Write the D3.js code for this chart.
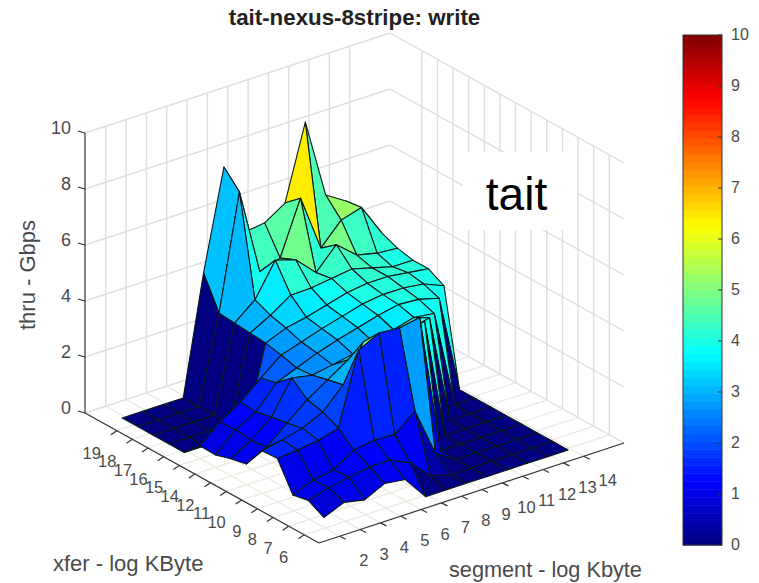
<!DOCTYPE html>
<html><head><meta charset="utf-8">
<script src="https://cdn.jsdelivr.net/npm/d3@7"></script>
<style>html,body{margin:0;padding:0;background:#fff}svg{display:block}text{font-family:"Liberation Sans",Arial,sans-serif}</style>
</head><body><svg id="c" width="759" height="583"></svg>
<script>
const title="tait-nexus-8stripe: write";
const xferLabels=[19,18,17,16,15,14,12,11,10,9,8,7,6];
const segLabels=[2,3,4,5,6,7,8,9,10,11,12,13,14];
const zTicks=[0,2,4,6,8,10];
const cbTicks=[0,1,2,3,4,5,6,7,8,9,10];
// rows: xfer from far (20) to near (6); columns: segment 2..14
const row0=[0,0,0,0,4.23,7.77,5.2,5.3,5.77,8.42,5.58,5.13,4.45];
const row1=[0,0,0,0,3.1,7.19,4.1,4.35,6.25,4.23,4.99,5.2,4.05];
const row2=[0,0,0,0,3.05,3.64,4.82,4.6,3.9,4.66,4.05,3.88,3.82];
const row3=[0,0,0,0,3.0,3.4,3.88,3.9,4.0,4.1,3.9,3.7,3.7];
const row4=[0,0,0,0,2.95,3.25,3.4,3.6,3.8,3.9,3.9,3.8,3.7];
const row5=[.55,1.16,1.63,2.25,2.83,3.06,3.3,3.5,3.7,3.8,3.8,3.7,3.4];
const row6=[.53,1.18,1.58,2.38,2.68,2.97,3.2,3.4,3.6,3.75,3.7,3.5,0];
const row7=[.7,1.13,1.71,2.87,2.73,2.86,3.0,3.2,3.4,3.6,3.5,0,0];
const row8=[.82,1.18,1.8,2.4,2.87,3.35,3.4,3.5,3.7,3.9,0,0,0];
const row9=[1.6,1.75,1.93,2.27,3.0,4.3,4.3,4.3,4.3,0,0,0,0];
const row10=[1.64,1.7,1.8,2.0,4.55,4.92,4.86,5.0,0,0,0,0,0];
const row11=[.64,.93,1.05,1.53,1.64,1.6,2.2,.46,0,0,0,0,0];
const row12=[.75,.96,1.1,1.23,1.24,.9,.2,0,0,0,0,0,0];
const row13=[.45,.75,.6,.95,.85,0,0,0,0,0,0,0,0];
const Z=[row0,row1,row2,row3,row4,row5,row6,row7,row8,row9,row10,row11,row12,row13];
const faceColorIn=[0,.5,1.2,2.4,3,3.7,10];
const faceColorOut=[0,.95,1.25,2.2,3,4,10];
const faceOverride={"11,6":2.8,"10,7":3.9,"9,8":3.9,"8,9":3.9,"7,10":3.9,"6,11":3.9};

const svg=d3.select("#c");
const uData=d3.scaleLinear().domain([0,13]).range([.083,.945]);
const vData=d3.scaleLinear().domain([0,12]).range([.058,.859]);
const uTick=d3.scaleLinear().domain([0,12]).range([.136,.937]);
const vTick=d3.scaleLinear().domain([0,12]).range([.068,.868]);
const zPx=d3.scaleLinear().domain([0,10]).range([0,280]);
const faceC=d3.scaleLinear().domain(faceColorIn).range(faceColorOut);
const px=(u,v)=>86+233*u+305*v-(1-u)*1;
const py=(u,v,z)=>413+130*u-100*v-zPx(z);
function jet(t){t=Math.max(0,Math.min(1,t));
 const f=(a)=>Math.max(0,Math.min(1,1.5-Math.abs(4*t-a)));
 return d3.rgb(255*f(3),255*f(2),255*f(1)).formatRgb();}
const cVal=d3.scaleLinear().domain([0,10]).range([0,1]);

// walls
const gWall=svg.append("g").attr("fill","none").attr("stroke","#dedede").attr("stroke-width",1.4);
const seg=(g,a,b)=>g.append("line").attr("x1",px(a[0],a[1])).attr("y1",py(a[0],a[1],a[2])).attr("x2",px(b[0],b[1])).attr("y2",py(b[0],b[1],b[2]));
zTicks.forEach(z=>{seg(gWall,[0,0,z],[0,1,z]);seg(gWall,[0,1,z],[1,1,z]);});
segLabels.forEach((_,k)=>seg(gWall,[0,vTick(k),0],[0,vTick(k),10]));
xferLabels.forEach((_,k)=>seg(gWall,[uTick(k),1,0],[uTick(k),1,10]));
const gFloor=svg.append("g").attr("stroke","#ebe8e0").attr("stroke-width",1.2);
segLabels.forEach((_,k)=>seg(gFloor,[0,vTick(k),0],[1,vTick(k),0]));
xferLabels.forEach((_,k)=>seg(gFloor,[uTick(k),0,0],[uTick(k),1,0]));

// axes
const gAx=svg.append("g").attr("stroke","#333").attr("stroke-width",1.2);
seg(gAx,[0,0,0],[0,0,10]);seg(gAx,[0,0,0],[1,0,0]);seg(gAx,[1,0,0],[1,1,0]);
const lab=svg.append("g").attr("fill","#4a4a4a").attr("font-size",16.5);
zTicks.forEach(z=>{const x=px(0,0),y=py(0,0,z);
 gAx.append("line").attr("x1",x).attr("y1",y).attr("x2",x-7).attr("y2",y-2);
 lab.append("text").attr("x",x-14).attr("y",y+1).attr("font-size",18).attr("text-anchor","end").text(z);});
xferLabels.forEach((t,k)=>{const u=uTick(k),x=px(u,0),y=py(u,0,0);
 gAx.append("line").attr("x1",x).attr("y1",y).attr("x2",x-6).attr("y2",y+4);
 lab.append("text").attr("x",x-16).attr("y",y+28).attr("text-anchor","end").text(t);});
segLabels.forEach((t,k)=>{const v=vTick(k),x=px(1,v),y=py(1,v,0);
 gAx.append("line").attr("x1",x).attr("y1",y).attr("x2",x+6).attr("y2",y+3);
 lab.append("text").attr("x",x+24).attr("y",y+30).attr("text-anchor","middle").text(t);});

// surface: painter order, far row first, high segment first
const cells=[];
for(let i=0;i<Z.length-1;i++)for(let j=Z[0].length-2;j>=0;j--)cells.push({i,j});
const P=(i,j)=>[px(uData(i),vData(j)),py(uData(i),vData(j),Z[i][j])].join(",");
const cellC=d=>{const o=faceOverride[(d.i+1)+","+d.j];return jet(cVal(o!==undefined?o:faceC(Z[d.i+1][d.j])));};
svg.append("g").selectAll("polygon").data(cells).join("polygon")
 .attr("points",d=>[P(d.i,d.j),P(d.i,d.j+1),P(d.i+1,d.j+1),P(d.i+1,d.j)].join(" "))
 .attr("fill",cellC)
 .attr("stroke","#0b1a1a").attr("stroke-width",1.1).attr("stroke-linejoin","round");

// title & labels
svg.append("text").attr("x",354.5).attr("y",25).attr("text-anchor","middle").attr("font-weight","bold").attr("font-size",22.3).attr("fill","#222").text(title);
svg.append("text").attr("transform","translate(35,275) rotate(-90)").attr("text-anchor","middle").attr("font-size",22).attr("fill","#4a4a4a").text("thru - Gbps");
svg.append("text").attr("x",53).attr("y",571).attr("font-size",22).attr("fill","#4a4a4a").text("xfer - log KByte");
svg.append("text").attr("x",449).attr("y",577).attr("font-size",21.7).attr("fill","#4a4a4a").text("segment - log Kbyte");

// text box
svg.append("rect").attr("x",463).attr("y",152).attr("width",114).attr("height",78).attr("fill","#fff");
svg.append("text").attr("x",516.5).attr("y",210).attr("text-anchor","middle").attr("font-size",46).attr("fill","#000").text("tait");

// colorbar
const cbX=683,cbW=39;
const cbY=d3.scaleLinear().domain([0,10]).range([545,35]);
const bands=d3.range(64);
svg.append("g").selectAll("rect").data(bands).join("rect")
 .attr("x",cbX).attr("width",cbW)
 .attr("y",d=>cbY((d+1)/6.4)).attr("height",d=>cbY(d/6.4)-cbY((d+1)/6.4)+.5)
 .attr("fill",d=>jet((d+.5)/64));
svg.append("rect").attr("x",cbX).attr("y",35).attr("width",cbW).attr("height",510).attr("fill","none").attr("stroke","#333").attr("stroke-width",1);
const gCb=svg.append("g");
cbTicks.forEach(t=>{
 gCb.append("line").attr("x1",cbX+cbW).attr("x2",cbX+cbW-4).attr("y1",cbY(t)).attr("y2",cbY(t)).attr("stroke","#333");
 gCb.append("text").attr("x",731).attr("y",cbY(t)+5).attr("font-size",16).attr("fill","#4a4a4a").text(t);});
</script></body></html>
